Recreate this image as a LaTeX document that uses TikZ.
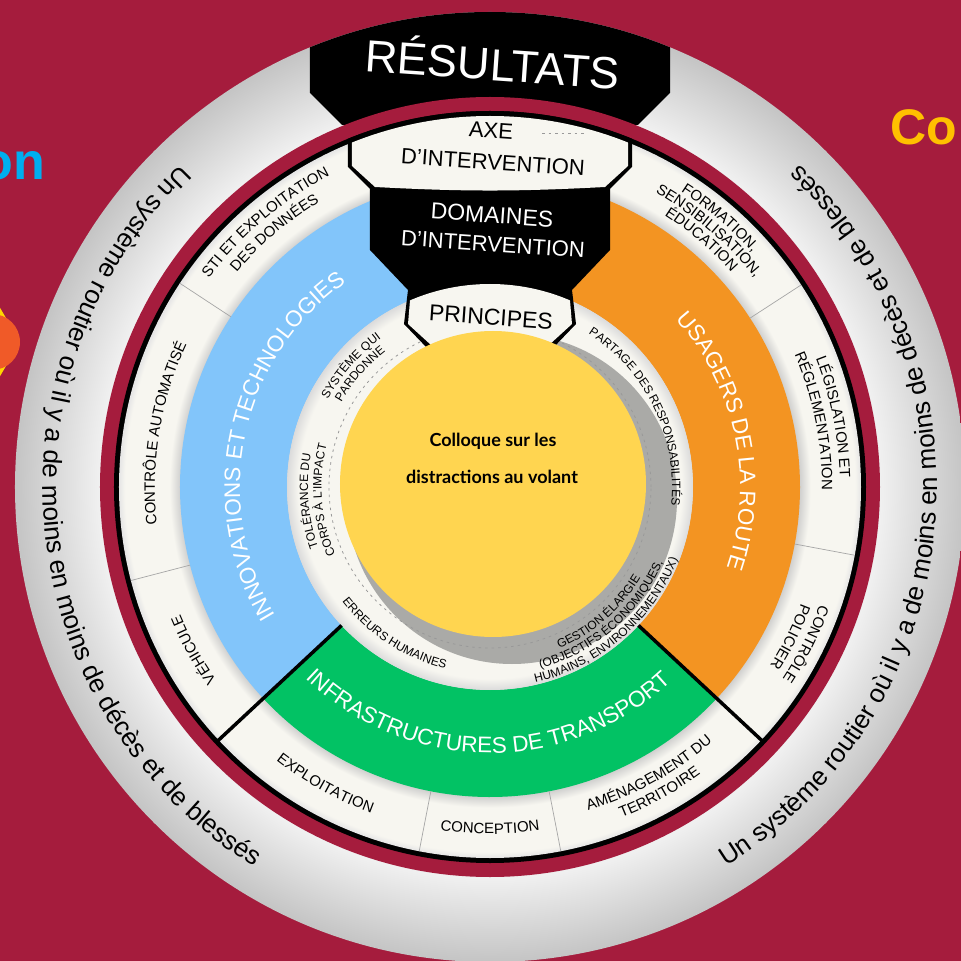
\documentclass[tikz,border=0pt]{standalone}
\usepackage{fontspec}
\setmainfont{Liberation Sans}
\newfontfamily\topicfont{Lato}
\usetikzlibrary{decorations.text}

\definecolor{winebg}{RGB}{165,28,61}
\definecolor{paper}{RGB}{247,246,240}
\definecolor{skyseg}{RGB}{130,197,250}
\definecolor{orangeseg}{RGB}{243,148,34}
\definecolor{greenseg}{RGB}{2,194,100}
\definecolor{sunyellow}{RGB}{255,213,80}
\definecolor{shadowgrey}{RGB}{170,170,167}
\definecolor{cyantxt}{RGB}{0,174,239}
\definecolor{goldtxt}{RGB}{255,192,0}
\definecolor{blobred}{RGB}{240,90,40}
\definecolor{blobyellow}{RGB}{255,214,0}

\pgfdeclareradialshading{greyring}{\pgfpoint{0bp}{0bp}}{color(0bp)=(black!7);color(20.4bp)=(black!7);color(20.6bp)=(black!6);color(25bp)=(black!23);color(50bp)=(black!23)}
\pgfdeclareradialshading{whitering}{\pgfpoint{0bp}{0bp}}{color(0bp)=(paper);color(20.7bp)=(black!22);color(21.6bp)=(paper);color(24.6bp)=(paper);color(25bp)=(black!10);color(50bp)=(black!10)}
\pgfdeclareradialshading{principlering}{\pgfpoint{0bp}{0bp}}{color(0bp)=(paper);color(23.6bp)=(paper);color(25bp)=(black!14);color(50bp)=(black!14)}

\newcommand\slogfont{\fontsize{26}{26}\selectfont}
\newcommand\bandfont{\fontsize{22.5}{22.5}\selectfont}
\newcommand\segfont{\fontsize{15}{15}\selectfont}
\newcommand\prinfont{\fontsize{12}{12}\selectfont}

% text on an arc, centred on angle #2, radius #3
\newcommand{\cwtext}[4][black]{%
  \path[decorate,decoration={text along path,text align=center,text color=#1,text={#4}}]
    ({#2+90}:#3) arc[start angle={#2+90},end angle={#2-90},radius=#3];}
\newcommand{\ccwtext}[4][black]{%
  \path[decorate,decoration={text along path,text align=center,text color=#1,text={#4}}]
    ({#2-90}:#3) arc[start angle={#2-90},end angle={#2+90},radius=#3];}

\tikzset{
  thickdiv/.style={line width=3.5pt, black},
  thindiv/.style={line width=0.7pt, black!35},
  dashring/.style={black!40, line width=0.8pt, dash pattern=on 2.5pt off 4pt},
  tabtext/.style={font=\fontsize{22}{22}\selectfont, rotate=-4, inner sep=0pt},
  topictext/.style={font=\topicfont\bfseries\fontsize{18}{18}\selectfont, inner sep=0pt}
}

\begin{document}
\begin{tikzpicture}[x=1pt, y=1pt]
  \useasboundingbox (-490,-474) rectangle (471,487);
  \clip (-490,-474) rectangle (471,487);
  % Background
  \fill[winebg] (-490,-474) rectangle (471,487);
  \fill[blobyellow] (-526,145) -- (-498,193) -- (-470,145) -- (-498,97) -- cycle;
  \fill[blobred] (-498,145) circle (28);
  \node[font=\bfseries\fontsize{52}{52}\selectfont, text=cyantxt, anchor=base east, inner sep=0pt] (tion) at (-445,307) {on};
  \node[font=\bfseries\fontsize{50}{50}\selectfont, text=goldtxt, anchor=base west, inner sep=0pt] (coll) at (400,342) {Co};

  % Outer ring and results tab
  \shade[shading=greyring] (0,0) circle (475);
  \begin{scope}
    \clip (0,0) circle (475);
    \fill[black] (-180,490) -- (-180,394) -- (-148,362) -- (148,362) -- (180,394) -- (180,490) -- cycle;
  \end{scope}
  \fill[winebg] (0,0) circle (390);
  \fill[black] (0,0) circle (376);
  \shade[shading=whitering] (0,0) circle (371);

  % Domains
  \fill[skyseg] (90:310) arc[start angle=90,end angle=223,radius=310] -- (223:203) arc[start angle=223,end angle=90,radius=203] -- cycle;
  \fill[greenseg] (223:310) arc[start angle=223,end angle=317,radius=310] -- (317:203) arc[start angle=317,end angle=223,radius=203] -- cycle;
  \fill[orangeseg] (-43:310) arc[start angle=-43,end angle=90,radius=310] -- (90:203) arc[start angle=90,end angle=-43,radius=203] -- cycle;

  % Principles
  \shade[shading=principlering] (0,0) circle (203);
  \fill[shadowgrey] (22,-12) circle (165);
  \draw[dashring] (0,0) circle (161);

  % Dividers
  \foreach \a in {146.7,194.6,259,281,349.4,33}
    \draw[thindiv] (\a:310) -- (\a:371);
  \foreach \a in {223,317}
    \draw[thickdiv] (\a:203) -- (\a:373);

  % Intervention stack
  \begin{scope}
    \clip (0,0) circle (376);
    \fill[black] (-142,380) -- (-142,320) -- (-120,298) -- (-120,237) -- (-82,197) -- (-86,163) -- (-62,138)
      -- (62,138) -- (86,163) -- (82,197) -- (120,237) -- (120,298) -- (142,320) -- (142,380) -- cycle;
  \end{scope}
  \begin{scope}
    \clip (0,0) circle (371);
    \fill[paper] (-138,380) -- (-138,321) -- (-115,300) to[bend right=3] (115,300) -- (138,321) -- (138,380) -- cycle;
  \end{scope}
  \begin{scope}
    \clip (0,0) circle (203);
    \fill[paper] (-78,210) -- (-82,163) -- (-59,142) -- (59,142) -- (82,163) -- (78,210) -- cycle;
  \end{scope}
  \draw[dashring, line width=0.6pt] (52,354) -- (97,354);

  % Centre
  \fill[sunyellow] (3,3) circle (153);
  \node[topictext] (topic1) at (3,46) {Colloque sur les};
  \node[topictext] (topic2) at (2,10) {distractions au volant};

  % Tab labels
  \node[tabtext, text=white, font=\fontsize{45}{45}\selectfont] (resultats) at (3,426) {RÉSULTATS};
  \node[tabtext] (axe) at (1,357) {AXE};
  \node[tabtext] (axe2) at (3,325) {D’INTERVENTION};
  \node[tabtext, text=white, font=\fontsize{23}{23}\selectfont] (domaines) at (2,272) {DOMAINES};
  \node[tabtext, text=white] (domaines2) at (3,243) {D’INTERVENTION};
  \node[tabtext, font=\fontsize{23}{23}\selectfont] (principes) at (1,170) {PRINCIPES};

  % Slogan
  \ccwtext{186}{447}{|\slogfont|Un système routier où il y a de moins en moins de décès et de blessés}
  \ccwtext{-6}{447}{|\slogfont|Un système routier où il y a de moins en moins de décès et de blessés}

  % Domain labels
  \cwtext[white]{168}{250}{|\bandfont|INNOVATIONS ET TECHNOLOGIES}
  \cwtext[white]{11.6}{250}{|\bandfont|USAGERS DE LA ROUTE}
  \ccwtext[white]{269.5}{266}{|\bandfont|INFRASTRUCTURES DE TRANSPORT}

  % Axis labels
  \cwtext{130.3}{350}{|\segfont|STI ET EXPLOITATION}
  \cwtext{130.3}{332}{|\segfont|DES DONNÉES}
  \cwtext{170.6}{335}{|\segfont|CONTRÔLE AUTOMATISÉ}
  \cwtext{208.8}{335}{|\segfont|VÉHICULE}
  \ccwtext{241}{347}{|\segfont|EXPLOITATION}
  \ccwtext{270}{347}{|\segfont|CONCEPTION}
  \ccwtext{299}{338}{|\segfont|AMÉNAGEMENT DU}
  \ccwtext{299}{356}{|\segfont|TERRITOIRE}
  \cwtext{333.5}{350}{|\segfont|CONTRÔLE}
  \cwtext{333.5}{332}{|\segfont|POLICIER}
  \cwtext{11.5}{350}{|\segfont|LÉGISLATION ET}
  \cwtext{11.5}{332}{|\segfont|RÉGLEMENTATION}
  \cwtext{49.5}{352}{|\segfont|FORMATION,}
  \cwtext{49.5}{337.5}{|\segfont|SENSIBILISATION,}
  \cwtext{49.5}{323}{|\segfont|ÉDUCATION}

  % Principle labels
  \cwtext{139}{184}{|\prinfont|SYSTÈME QUI}
  \cwtext{139}{171}{|\prinfont|PARDONNE}
  \cwtext{184.5}{182}{|\prinfont|TOLÉRANCE DU}
  \cwtext{184.5}{168.5}{|\prinfont|CORPS À L’IMPACT}
  \cwtext{25.8}{182}{|\prinfont|PARTAGE DES RESPONSABILITÉS}
  \ccwtext{237}{187}{|\prinfont|ERREURS HUMAINES}
  \ccwtext{311}{176}{|\prinfont|GESTION ÉLARGIE}
  \ccwtext{311}{188.5}{|\prinfont|(OBJECTIFS ÉCONOMIQUES,}
  \ccwtext{311}{201}{|\prinfont|HUMAINS, ENVIRONNEMENTAUX)}
\end{tikzpicture}
\end{document}
